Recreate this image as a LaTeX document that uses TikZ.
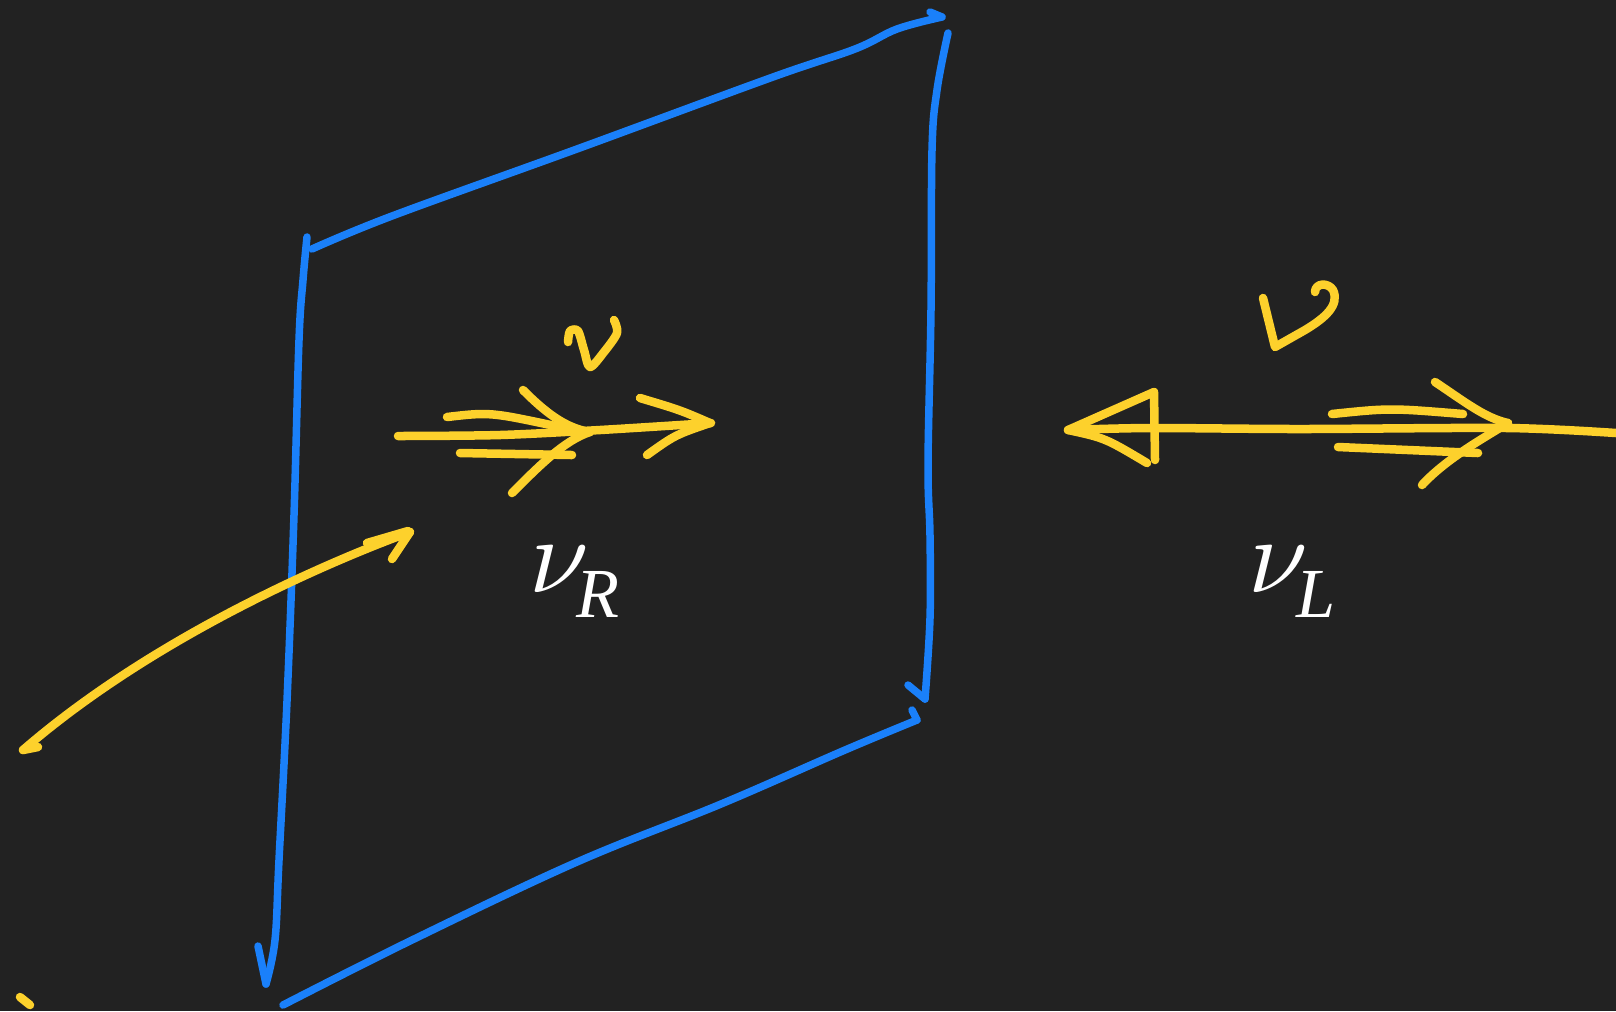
\documentclass[tikz,border=0pt]{standalone}
\usepackage{fontspec}
\newfontfamily\tnr{Liberation Serif}
\definecolor{bg}{HTML}{222222}
\definecolor{pen}{HTML}{FDD12C}
\definecolor{ink}{HTML}{1A80FA}
\begin{document}
\begin{tikzpicture}[x=0.01cm,y=-0.01cm,
  yel/.style={draw=pen,line width=0.085cm,line cap=round,line join=round},
  blu/.style={draw=ink,line width=0.075cm,line cap=round,line join=round},
  lab/.style={text=white,inner sep=0pt,anchor=base west,scale=3.05},
  sub/.style={text=white,inner sep=0pt,anchor=base west,font=\tnr\itshape\fontsize{20}{20}\selectfont}]
\fill[bg] (0,0) rectangle (1616,1011);
\useasboundingbox (0,0) rectangle (1616,1011);
% blue sheet
\draw[blu] plot[smooth,tension=0.6] coordinates {(312,249) (392,216) (577,149) (773,77) (855,49) (897,29) (942,17)};
\draw[blu] (942,17) -- (930,12);
\draw[blu] plot[smooth,tension=0.6] coordinates {(307,237) (303,280) (299,340) (294,515) (287,701) (279,860) (275,940) (266,984)};
\draw[blu] (258,946) -- (266,984);
\draw[blu] plot[smooth,tension=0.6] coordinates {(283,1005) (412,940) (577,862) (721,804) (845,750) (917,720)};
\draw[blu] (917,720) -- (912,710);
\draw[blu] plot[smooth,tension=0.6] coordinates {(948,33) (937,90) (932,150) (931,309) (928,464) (930,536) (930,618) (925,699)};
\draw[blu] (908,685) -- (925,699);
% left yellow arrows
\draw[yel] plot[smooth] coordinates {(398,436) (500,435) (600,430) (711,423)};
\draw[yel] (640,398) .. controls (680,410) .. (710,423);
\draw[yel] (647,455) .. controls (675,435) .. (710,423);
\draw[yel] (523,390) .. controls (545,412) and (565,428) .. (590,432);
\draw[yel] (512,493) .. controls (540,465) and (565,440) .. (590,432);
\draw[yel] (447,417) .. controls (490,412) .. (560,427);
\draw[yel] (460,453) -- (572,455);
\draw[yel] plot[smooth] coordinates {(568,342) (570,331) (578,331) (584,350) (590,367) (604,352) (617,333) (614,320)};
% lower-left curved arrow
\draw[yel] (23,750) .. controls (150,640) and (320,565) .. (410,532);
\draw[yel] (392,559) -- (410,532);
\draw[yel] (367,543) -- (408,531);
\draw[yel] (23,750) -- (38,747);
\draw[yel] (20,997) -- (30,1005);
% right yellow arrows
\draw[yel] plot[smooth] coordinates {(1068,430) (1150,428) (1300,429) (1508,428) (1616,433)};
\draw[yel] (1154,392) -- (1068,430) .. controls (1105,438) .. (1147,463);
\draw[yel] (1154,392) -- (1155,460);
\draw[yel] (1332,414) .. controls (1390,408) .. (1463,414);
\draw[yel] (1338,447) -- (1478,453);
\draw[yel] (1435,382) .. controls (1465,402) and (1485,418) .. (1508,423);
\draw[yel] (1422,485) .. controls (1445,460) and (1480,440) .. (1508,423);
\draw[yel] (1263,298) -- (1275,347) -- (1305,330) .. controls (1325,318) and (1340,305) .. (1333,290) .. controls (1328,282) and (1315,283) .. (1315,292);
% labels
\node[lab] (nuR) at (527,592) {$\nu$};
\node[sub] (subR) at (576,617) {R};
\node[lab] (nuL) at (1246,592) {$\nu$};
\node[sub] (subL) at (1296,617) {L};
\end{tikzpicture}
\end{document}
